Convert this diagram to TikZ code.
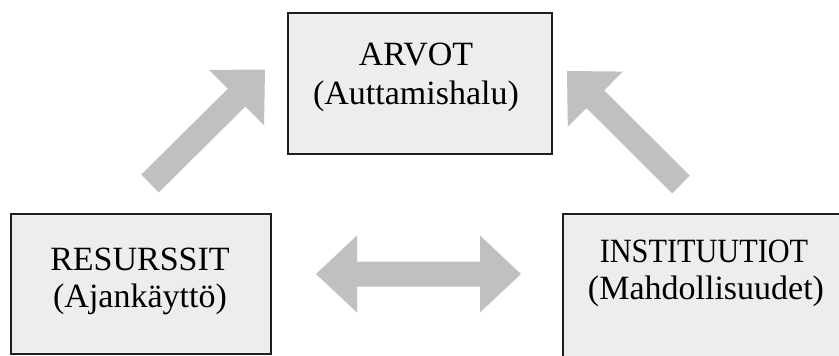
\documentclass[tikz,border=0pt]{standalone}
\usepackage{fontspec}
\setmainfont{Liberation Serif}
\usetikzlibrary{calc}
\definecolor{boxfill}{HTML}{EDEDED}
\definecolor{boxline}{HTML}{1E1E1E}
\definecolor{arrowgray}{HTML}{C0C0C0}
\begin{document}
\begin{tikzpicture}[x=1pt,y=-1pt,
  box/.style={draw=boxline, fill=boxfill, line width=2.8pt, rectangle, inner sep=0pt, anchor=north west},
  lbl/.style={anchor=base, inner sep=0pt, font=\fontsize{34}{40}\selectfont},
  blk/.style={fill=arrowgray, draw=none}]
\useasboundingbox (0,0) rectangle (839,356);
\clip (0,0) rectangle (839,356);
% boxes
\node[box, minimum width=264pt, minimum height=141pt] (arvot) at (286.5,11.5) {};
\node[box, minimum width=260pt, minimum height=140pt] (res) at (9.5,212.5) {};
\node[box, minimum width=300pt, minimum height=170pt] (inst) at (561.5,212.5) {};
% texts
\node[lbl] (arvot1) at (416,65) {ARVOT};
\node[lbl] (arvot2) at (416,104) {(Auttamishalu)};
\node[lbl] (res1) at (140,270) {RESURSSIT};
\node[lbl] (res2) at (140,307) {(Ajankäyttö)};
\node[lbl] (inst1) at (704,262) {\scalebox{0.89}[1]{INSTITUUTIOT}};
\node[lbl] (inst2) at (706,299) {(Mahdollisuudet)};
% arrow end points
\coordinate (a1tail) at (150,183.5);
\coordinate (a1tip) at (265,69.5);
\coordinate (a2tail) at (681,184.5);
\coordinate (a2tip) at (567,71);
\coordinate (a3l) at (316,274);
\coordinate (a3r) at (521,274);
\coordinate (a1neck) at ($(a1tip)!40pt!(a1tail)$);
\coordinate (a2neck) at ($(a2tip)!40pt!(a2tail)$);
\coordinate (a3ln) at ($(a3l)!41pt!(a3r)$);
\coordinate (a3rn) at ($(a3r)!41pt!(a3l)$);
% arrow 1 (RESURSSIT -> ARVOT)
\fill[blk] ($(a1tail)!12.5pt!90:(a1tip)$) -- ($(a1neck)!12.5pt!90:(a1tip)$)
  -- ($(a1neck)!39pt!90:(a1tip)$) -- (a1tip) -- ($(a1neck)!39pt!-90:(a1tip)$)
  -- ($(a1neck)!12.5pt!-90:(a1tip)$) -- ($(a1tail)!12.5pt!-90:(a1tip)$) -- cycle;
% arrow 2 (INSTITUUTIOT -> ARVOT)
\fill[blk] ($(a2tail)!12.5pt!90:(a2tip)$) -- ($(a2neck)!12.5pt!90:(a2tip)$)
  -- ($(a2neck)!39pt!90:(a2tip)$) -- (a2tip) -- ($(a2neck)!39pt!-90:(a2tip)$)
  -- ($(a2neck)!12.5pt!-90:(a2tip)$) -- ($(a2tail)!12.5pt!-90:(a2tip)$) -- cycle;
% double arrow
\fill[blk] (a3l) -- ($(a3ln)!38.5pt!90:(a3r)$) -- ($(a3ln)!12.5pt!90:(a3r)$)
  -- ($(a3rn)!12.5pt!-90:(a3l)$) -- ($(a3rn)!38.5pt!-90:(a3l)$) -- (a3r)
  -- ($(a3rn)!38.5pt!90:(a3l)$) -- ($(a3rn)!12.5pt!90:(a3l)$)
  -- ($(a3ln)!12.5pt!-90:(a3r)$) -- ($(a3ln)!38.5pt!-90:(a3r)$) -- cycle;
\end{tikzpicture}
\end{document}
